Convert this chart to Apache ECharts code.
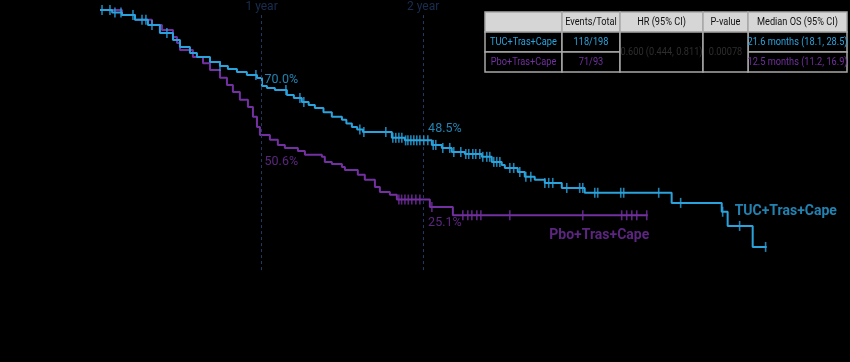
<!DOCTYPE html>
<html><head><meta charset="utf-8">
<script src="https://cdn.jsdelivr.net/npm/echarts@6/dist/echarts.min.js"></script>
<style>html,body{margin:0;padding:0;background:#000}#c{width:850px;height:362px}</style>
</head><body><div id="c"></div>
<script>
// ---- data (months, survival %) ----
const tucTimes = [0,0.9,1.63,2.60,3.56,4.45,5.42,5.94,6.68,7.20,8.17,8.91,9.5,10.17,10.91,11.66,12.03,12.40,12.99,13.88,14.4,14.99,15.5,15.96,16.6,17.22,17.97,18.3,18.71,19.1,19.53,21.68,22.64,24.65,25.39,26.13,27.10,28.36,29.10,29.84,30.07,31.03,31.55,32.29,33.04,34.30,36.00,42.46,46.18,46.62,48.48,49.52];
const tucSurv  = [100,99.0,98.0,96.1,94.1,90.9,88.1,85.4,83.0,81.4,79.5,77.9,76.7,75.5,74.3,73.1,70.0,69.2,68.4,66.4,65.2,63.7,62.5,61.3,59.6,57.8,56.6,55.2,53.8,52.8,51.8,49.5,48.5,46.7,45.5,43.9,43.1,42.0,40.0,38.8,37.6,36.0,34.1,32.9,31.7,29.7,27.8,23.8,20.3,14.7,6.4,6.4];
const tucCensor = [0.15,0.74,1.11,1.56,2.45,3.12,3.41,3.86,4.97,8.91,11.58,13.81,14.85,15.14,19.30,19.60,21.23,21.75,21.97,22.20,22.42,22.70,22.87,23.09,23.31,23.53,23.76,24.05,24.35,24.75,24.94,25.46,25.98,26.28,26.80,27.17,27.39,27.69,27.91,28.21,28.43,28.73,28.95,29.25,29.47,29.70,30.44,30.73,31.18,31.63,32.00,33.04,33.33,33.63,34.67,35.63,35.86,36.75,36.97,38.68,38.90,41.50,43.13,46.25,47.51,49.44];
const pboTimes = [0,1.63,2.60,3.86,4.60,5.42,5.72,5.94,6.90,7.65,8.17,8.91,9.43,9.87,10.39,10.99,11.36,11.66,11.88,12.62,13.21,13.73,14.70,15.22,16.48,16.70,17.22,17.97,18.19,19.15,19.67,20.42,20.79,21.53,22.05,24.50,26.21,40.68];
const pboSurv  = [100,98.0,96.1,94.1,92.1,89.3,87.0,84.2,81.4,79.0,76.3,73.2,70.4,67.6,64.5,61.7,57.8,53.8,50.6,48.7,46.7,45.5,44.3,42.8,42.0,40.0,39.2,38.0,36.8,34.9,32.9,30.1,28.1,27.0,25.1,22.2,18.9,18.9];
const pboCensor = [22.20,22.40,22.65,22.90,23.16,23.46,23.76,24.65,26.95,27.32,27.62,27.99,28.29,30.44,35.86,38.75,39.12,39.50,39.87,40.61];
const landmarkMonths = [12, 24];
const landmarkLabels = ['1 year', '2 year'];
const tucLandmark = [70.0, 48.5];
const pboLandmark = [50.6, 25.1];
const armNames = ['TUC+Tras+Cape', 'Pbo+Tras+Cape'];
const tableHeaders = ['', 'Events/Total', 'HR (95% CI)', 'P-value', 'Median OS (95% CI)'];
const tucRow = ['TUC+Tras+Cape', '118/198', '0.600 (0.444, 0.811)', '0.00078', '21.6 months (18.1, 28.5)'];
const pboRow = ['Pbo+Tras+Cape', '71/93', '0.600 (0.444, 0.811)', '0.00078', '12.5 months (11.2, 16.9)'];

const BLUE = '#2aa3dd', PURPLE = '#7330a0', NAVY = '#1f3864';

function pairs(t, s) { return t.map((x, i) => [x, s[i]]); }
function survAt(t, s, x) { let v = s[0]; for (let i = 0; i < t.length; i++) { if (t[i] <= x) v = s[i]; } return v; }
function censorPts(c, t, s) { return c.map(x => [x, survAt(t, s, x)]); }

// ---- table as graphic ----
const colEdges = [485, 562, 620, 703, 748, 847];
const rowEdges = [12, 32, 52, 72];
const graphics = [];
function cell(x0, x1, y0, y1, fill, text, color) {
  graphics.push({ type: 'rect', shape: { x: x0, y: y0, width: x1 - x0, height: y1 - y0 },
    style: { fill: fill, stroke: '#a8a8a8', lineWidth: 1.5 }, z: 10 });
  if (text) graphics.push({ type: 'text', x: (x0 + x1) / 2, y: (y0 + y1) / 2 + 0.5, scaleX: 0.8,
    style: { text: text, fill: color, font: '11.5px Roboto', align: 'center', verticalAlign: 'middle' }, z: 11 });
}
tableHeaders.forEach((h, i) => cell(colEdges[i], colEdges[i + 1], rowEdges[0], rowEdges[1], '#d6d6d6', h, '#111'));
[tucRow, pboRow].forEach((row, r) => {
  const col = r === 0 ? BLUE : PURPLE;
  [0, 1, 4].forEach(i => cell(colEdges[i], colEdges[i + 1], rowEdges[r + 1], rowEdges[r + 2], '#000', row[i], col));
});
[2, 3].forEach(i => cell(colEdges[i], colEdges[i + 1], rowEdges[1], rowEdges[3], '#000', tucRow[i], '#2e2e2e'));

const chart = echarts.init(document.getElementById('c'));
chart.setOption({
  backgroundColor: '#000',
  animation: false,
  grid: { left: 100, right: 23, top: 10, bottom: 90 },
  xAxis: { type: 'value', min: 0, max: 54, show: false },
  yAxis: { type: 'value', min: -3.5, max: 100, show: false },
  graphic: graphics,
  series: [
    { type: 'line', step: 'end', data: pairs(pboTimes, pboSurv), showSymbol: false,
      lineStyle: { color: PURPLE, width: 2 }, z: 2 },
    { type: 'line', step: 'end', data: pairs(tucTimes, tucSurv), showSymbol: false,
      lineStyle: { color: BLUE, width: 2 }, z: 3,
      markLine: { silent: true, symbol: 'none', label: { show: false },
        lineStyle: { color: NAVY, type: [3, 3], width: 1 },
        data: landmarkMonths.map(m => [{ coord: [m, 98] }, { coord: [m, -3.5] }]) } },
    { type: 'scatter', data: censorPts(pboCensor, pboTimes, pboSurv), symbol: 'rect', symbolSize: [1.6, 10],
      itemStyle: { color: PURPLE }, z: 4 },
    { type: 'scatter', data: censorPts(tucCensor, tucTimes, tucSurv), symbol: 'rect', symbolSize: [1.6, 10],
      itemStyle: { color: BLUE }, z: 5 },
    { type: 'scatter', symbolSize: 0, data: landmarkMonths.map((m, i) => ({ value: [m, 100], name: landmarkLabels[i] })),
      label: { show: true, position: 'inside', offset: [0, -3], formatter: p => p.name,
        color: NAVY, fontSize: 12, fontFamily: 'Roboto' } },
    { type: 'scatter', symbolSize: 0, data: landmarkMonths.map((m, i) => [m, tucLandmark[i]]),
      label: { show: true, position: 'right', distance: 3, formatter: p => p.value[1].toFixed(1) + '%',
        color: BLUE, fontSize: 12.5, fontFamily: 'Roboto' },
      labelLayout: (p) => ({ dy: p.dataIndex === 0 ? -6 : -11, dx: p.dataIndex === 0 ? 0 : 2 }) },
    { type: 'scatter', symbolSize: 0, data: landmarkMonths.map((m, i) => [m, pboLandmark[i]]),
      label: { show: true, position: 'right', distance: 3, formatter: p => p.value[1].toFixed(1) + '%',
        color: PURPLE, fontSize: 12.5, fontFamily: 'Roboto' },
      labelLayout: (p) => ({ dy: p.dataIndex === 0 ? 27 : 23, dx: p.dataIndex === 0 ? 0 : 2 }) },
    { type: 'scatter', symbolSize: 0, data: [{ value: [46.62, 20.3], name: armNames[0] }],
      label: { show: true, position: 'right', distance: 7, formatter: p => p.name,
        color: BLUE, fontSize: 14, fontWeight: 'bold', fontFamily: 'Roboto' } },
    { type: 'scatter', symbolSize: 0, data: [{ value: [33.0, 18.9], name: armNames[1] }],
      label: { show: true, position: 'right', distance: 5, offset: [0, 20], formatter: p => p.name,
        color: PURPLE, fontSize: 14, fontWeight: 'bold', fontFamily: 'Roboto' } }
  ]
});
</script></body></html>
